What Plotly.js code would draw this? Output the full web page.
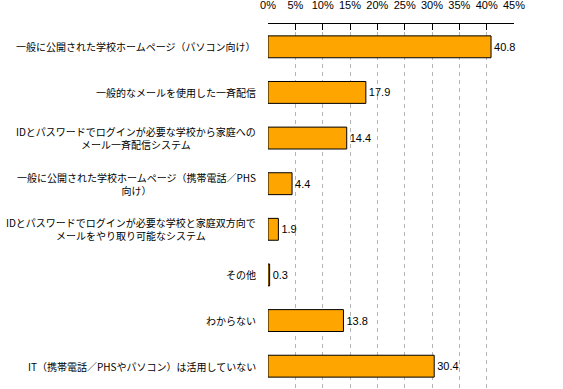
<!DOCTYPE html>
<html>
<head>
<meta charset="utf-8">
<script src="https://cdn.plot.ly/plotly-3.0.1.min.js"></script>
<style>html,body{margin:0;padding:0;background:#fff;}#chart{width:563px;height:389px;}</style>
</head>
<body>
<div id="chart"></div>
<script>
var categories = [
  "一般に公開された学校ホームページ（パソコン向け）",
  "一般的なメールを使用した一斉配信",
  "IDとパスワードでログインが必要な学校から家庭への<br>メール一斉配信システム",
  "一般に公開された学校ホームページ（携帯電話／PHS<br>向け）",
  "IDとパスワードでログインが必要な学校と家庭双方向で<br>メールをやり取り可能なシステム",
  "その他",
  "わからない",
  "IT（携帯電話／PHSやパソコン）は活用していない"
];
var values = [40.8, 17.9, 14.4, 4.4, 1.9, 0.3, 13.8, 30.4];
var valueLabels = ["40.8", "17.9", "14.4", "4.4", "1.9", "0.3", "13.8", "30.4"];
var tickVals = [0, 5, 10, 15, 20, 25, 30, 35, 40, 45];

var idx = categories.map(function(_, i){ return i; });

var trace = {
  type: 'bar',
  orientation: 'h',
  x: values,
  y: idx,
  text: valueLabels,
  textposition: 'outside',
  cliponaxis: false,
  textfont: {family: 'Liberation Sans, Arial, sans-serif', size: 11, color: '#000'},
  marker: {color: '#FFA500', line: {color: '#000', width: 1}},
  hoverinfo: 'none'
};

var annotations = categories.map(function(c, i){
  return {
    xref: 'paper', yref: 'y', x: 0, y: i,
    xanchor: 'right', yanchor: 'middle', xshift: -10,
    align: 'center', showarrow: false, text: c,
    font: {family: 'Noto Sans CJK JP, sans-serif', size: 10, color: '#000'}
  };
});

var layout = {
  width: 563, height: 389,
  margin: {l: 268, r: 49, t: 24, b: 0, pad: 0},
  paper_bgcolor: '#fff', plot_bgcolor: '#fff',
  showlegend: false,
  bargap: 0.52,
  xaxis: {
    side: 'top', range: [0, 45], tickvals: tickVals,
    ticktext: tickVals.map(function(v){ return v + '%'; }),
    showgrid: true, gridcolor: '#b4b4b4', griddash: '4px,4px', gridwidth: 1,
    zeroline: false, showline: true, linecolor: '#000', linewidth: 1,
    ticks: 'inside', ticklen: 6, tickcolor: '#000', tickwidth: 1,
    ticklabelstandoff: 10,
    tickfont: {family: 'Liberation Sans, Arial, sans-serif', size: 11, color: '#000'},
    fixedrange: true
  },
  yaxis: {
    range: [7.5, -0.5], showticklabels: false, showgrid: false,
    zeroline: false, showline: false, ticks: '', fixedrange: true
  },
  annotations: annotations
};

Plotly.newPlot('chart', [trace], layout, {displayModeBar: false, staticPlot: true});
</script>
</body>
</html>
